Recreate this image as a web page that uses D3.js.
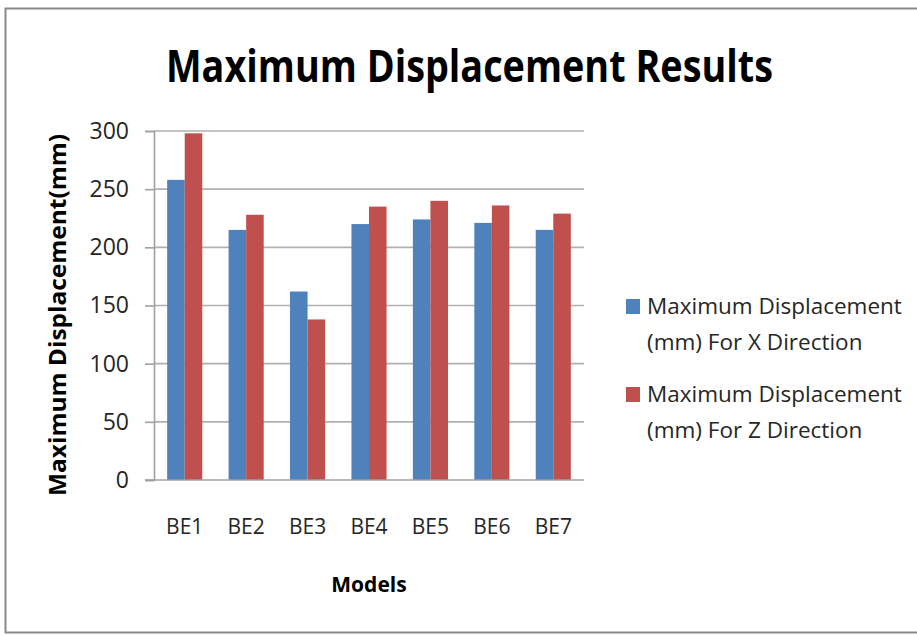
<!DOCTYPE html>
<html>
<head>
<meta charset="utf-8">
<script src="https://cdn.jsdelivr.net/npm/d3@7"></script>
<style>
  body { margin: 0; background: #fff; overflow: hidden; }
  svg { display: block; }
  text { font-family: "Open Sans", sans-serif; }
</style>
</head>
<body>
<div id="chart"></div>
<script>
var width = 917,
    height = 636;

// data
var models = ["BE1", "BE2", "BE3", "BE4", "BE5", "BE6", "BE7"];
var xDirection = [258, 215, 162, 220, 224, 221, 215];
var zDirection = [298, 228, 138, 235, 240, 236, 229];
var yTicks = [0, 50, 100, 150, 200, 250, 300];
var seriesNames = [
  ["Maximum Displacement", "(mm) For X Direction"],
  ["Maximum Displacement", "(mm) For Z Direction"]
];
var colors = ["#4f81bd", "#c0504d"];

var plot = {left: 154, right: 584, top: 131, bottom: 480};

var svg = d3.select("#chart").append("svg")
    .attr("width", width)
    .attr("height", height);

// outer chart border: left, top and bottom only (right side runs off the picture)
svg.append("path")
    .attr("d", "M" + width + ",8.5H5.5V632.5H" + width)
    .attr("fill", "none")
    .attr("stroke", "#8a8a8a")
    .attr("stroke-width", 2);

var x = d3.scaleBand()
    .domain(models)
    .range([plot.left, plot.right])
    .paddingInner(1.5 / 3.5)
    .paddingOuter(0.75 / 3.5);

var x1 = d3.scaleBand()
    .domain([0, 1])
    .range([0, x.bandwidth()]);

var y = d3.scaleLinear()
    .domain([0, 300])
    .range([plot.bottom, plot.top]);

// gridlines
svg.append("g").attr("class", "grid")
  .selectAll("line").data(yTicks.slice(1))
  .enter().append("line")
    .attr("x1", plot.left).attr("x2", plot.right)
    .attr("y1", d => y(d)).attr("y2", d => y(d))
    .attr("stroke", "#b0b0b0")
    .attr("stroke-width", 1.6);

// y axis
var yAxis = svg.append("g")
    .attr("transform", "translate(" + plot.left + ",0)")
    .call(d3.axisLeft(y).tickValues(yTicks).tickSize(9).tickPadding(16));
yAxis.select(".domain").attr("stroke", "#a0a0a0").attr("stroke-width", 1.6);
yAxis.selectAll(".tick line").attr("stroke", "#a0a0a0").attr("stroke-width", 1.6);
yAxis.selectAll(".tick text")
    .attr("font-family", "Open Sans")
    .attr("font-size", 23)
    .attr("fill", "#262626");

// bars
var groups = svg.append("g").attr("class", "bars")
  .selectAll("g").data(models)
  .enter().append("g")
    .attr("transform", d => "translate(" + x(d) + ",0)");

groups.selectAll("rect")
    .data((d, i) => [xDirection[i], zDirection[i]])
  .enter().append("rect")
    .attr("x", (d, j) => x1(j))
    .attr("width", x1.bandwidth())
    .attr("y", d => y(d))
    .attr("height", d => y(0) - y(d))
    .attr("fill", (d, j) => colors[j]);

// x axis line
svg.append("line")
    .attr("x1", plot.left - 9).attr("x2", plot.right)
    .attr("y1", plot.bottom).attr("y2", plot.bottom)
    .attr("stroke", "#a0a0a0")
    .attr("stroke-width", 1.6);

// category labels
svg.append("g").attr("class", "xlabels")
  .selectAll("text").data(models)
  .enter().append("text")
    .attr("x", d => x(d) + x.bandwidth() / 2)
    .attr("y", 534)
    .attr("text-anchor", "middle")
    .attr("font-size", 21)
    .attr("fill", "#262626")
    .text(d => d);

// title
svg.append("text")
    .attr("x", 166).attr("y", 82)
    .attr("font-size", 44)
    .attr("font-weight", "bold")
    .attr("textLength", 607)
    .attr("lengthAdjust", "spacingAndGlyphs")
    .text("Maximum Displacement Results");

// axis titles
svg.append("text")
    .attr("transform", "translate(66,315) rotate(-90)")
    .attr("text-anchor", "middle")
    .attr("font-size", 23)
    .attr("font-weight", "bold")
    .attr("textLength", 362)
    .attr("lengthAdjust", "spacingAndGlyphs")
    .text("Maximum Displacement(mm)");

svg.append("text")
    .attr("x", (plot.left + plot.right) / 2).attr("y", 592)
    .attr("text-anchor", "middle")
    .attr("font-size", 21)
    .attr("font-weight", "bold")
    .text("Models");

// legend
var legend = svg.append("g").attr("class", "legend")
  .selectAll("g").data(seriesNames)
  .enter().append("g")
    .attr("transform", (d, i) => "translate(626," + (299 + i * 88) + ")");

legend.append("rect")
    .attr("width", 14).attr("height", 15)
    .attr("fill", (d, i) => colors[i]);

legend.append("text")
    .attr("font-size", 22.5)
    .attr("fill", "#262626")
  .selectAll("tspan").data(d => d)
  .enter().append("tspan")
    .attr("x", 21)
    .attr("y", (d, k) => 15 + k * 36)
    .text(d => d);
</script>
</body>
</html>
